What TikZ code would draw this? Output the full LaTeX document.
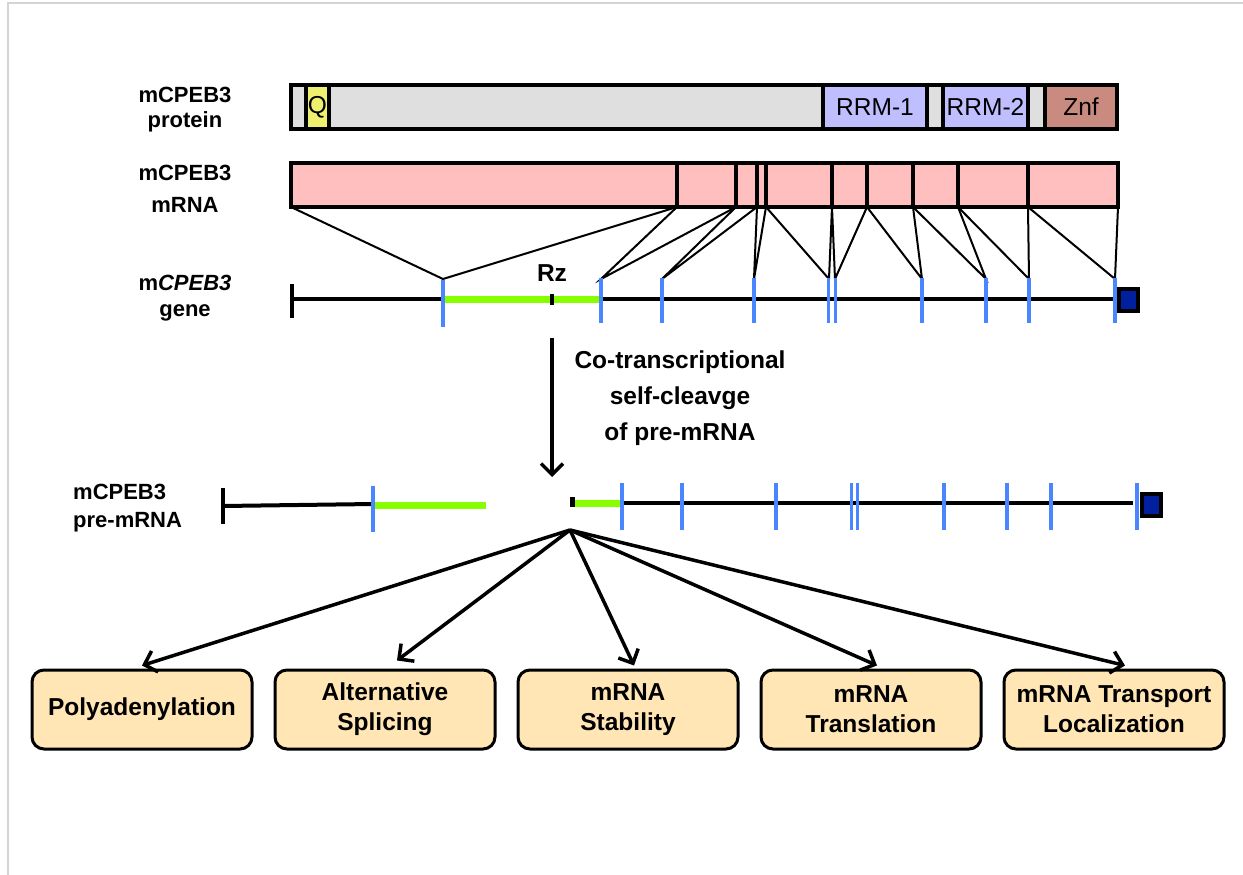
\documentclass[tikz,border=0pt]{standalone}
\usepackage{fontspec}
\setmainfont{Liberation Sans}
\usetikzlibrary{arrows.meta,calc}
\definecolor{protgray}{HTML}{DFDFDF}
\definecolor{qyellow}{HTML}{F0F070}
\definecolor{rrmblue}{HTML}{BFBFFF}
\definecolor{znfrose}{HTML}{C98A80}
\definecolor{mrnapink}{HTML}{FFBFBF}
\definecolor{rzgreen}{HTML}{88FF00}
\definecolor{exonblue}{HTML}{4A86FF}
\definecolor{capblue}{HTML}{0020A0}
\definecolor{boxfill}{HTML}{FFE6B4}
\definecolor{framegray}{HTML}{D4D4D4}
\begin{document}
\begin{tikzpicture}[x=1pt,y=-1pt,
  lbl/.style={font=\bfseries\fontsize{22}{25}\selectfont, align=center, inner sep=0pt},
  dom/.style={draw, line width=4pt, minimum height=44pt, inner sep=0pt,
              font=\fontsize{24.5}{26}\selectfont},
  exon/.style={draw=exonblue, line width=3.5pt},
  ribo/.style={draw=rzgreen, line width=7pt},
  backbone/.style={line width=4pt},
  linkline/.style={line width=2pt},
  capbox/.style={draw, line width=4pt, fill=capblue, inner sep=0pt},
  fan/.style={line width=3.5pt, -{Straight Barb[length=11pt,width=22pt]}},
  outbox/.style={draw, line width=3pt, rounded corners=12pt, fill=boxfill,
                 minimum width=220pt, minimum height=79pt, inner sep=2pt, align=center,
                 font=\bfseries\fontsize{24.5}{30}\selectfont}]
\useasboundingbox (0,0) rectangle (1243,875);

% page frame
\draw[framegray, line width=1.5pt] (8,875) -- (8,3) -- (1243,3);

% ---------- protein ----------
\node[lbl] (protlbl) at (185,110) {mCPEB3\\protein};
\draw[line width=4pt, fill=protgray] (291,85) rectangle (1117,129);
\node[dom, fill=qyellow, minimum width=23pt] (q) at (317.5,107) {Q};
\node[dom, fill=rrmblue, minimum width=104pt] (rrm1) at (875,107) {RRM-1};
\node[dom, fill=rrmblue, minimum width=85pt] (rrm2) at (985.5,107) {RRM-2};
\node[dom, fill=znfrose, minimum width=72pt] (znf) at (1081,107) {Znf};

% ---------- mRNA ----------
\node[lbl, font=\bfseries\fontsize{22}{32}\selectfont] (mrnalbl) at (185,189) {mCPEB3\\mRNA};
\foreach \i/\x in {0/291,1/677,2/736,3/757,4/766,5/832,6/867,7/913,8/958,9/1028,10/1118}
  \coordinate (r\i) at (\x,207);
\foreach \i/\x in {1/443,2/601,3/662,4/754,5/829,6/835,7/922,8/986,9/1029,10/1115}
  \coordinate (g\i) at (\x,279);
% exon mapping lines between transcript and gene
\foreach \i [evaluate=\i as \j using int(\i-1)] in {1,...,10}
  \draw[linkline] (r\j) -- (g\i) -- (r\i);
\draw[line width=4pt, fill=mrnapink] (291,163) rectangle (1118,207);
\foreach \x in {677,736,757,766,832,867,913,958,1028}
  \draw[line width=4pt] (\x,163) -- (\x,207);

% ---------- gene ----------
\node[lbl, font=\bfseries\fontsize{22}{26}\selectfont] (genelbl) at (185,298) {m\textit{CPEB3}\\gene};
\draw[backbone] (292,284) -- (292,318);
\draw[backbone] (292,299) -- (1115,299);
\draw[ribo] (443,299) -- (601,299);
\draw[line width=3.5pt] (552,294) -- (552,305);
\node[font=\bfseries\fontsize{24.5}{28}\selectfont, inner sep=0pt] (rz) at (552,273) {Rz};
\draw[exon] (443,280) -- (443,327);
\foreach \x in {601,662,754,922,986,1029,1115}
  \draw[exon] (\x,278) -- (\x,323);
\foreach \x in {828.5,835}
  \draw[exon, line width=3pt] (\x,278) -- (\x,323);
\node[capbox, minimum width=19pt, minimum height=22pt] (genecap) at (1128.5,299.5) {};

% ---------- self-cleavage ----------
\coordinate (cut) at (552,338);
\coordinate (cutend) at (552,477);
\draw[line width=3.5pt, -{Straight Barb[length=11pt,width=22pt]}] (cut) -- (cutend);
\node[lbl, font=\bfseries\fontsize{24.5}{36}\selectfont] (cleave) at (680,398)
  {Co-transcriptional\\self-cleavge\\of pre-mRNA};

% ---------- pre-mRNA ----------
\node[lbl, align=left, anchor=west, font=\bfseries\fontsize{22}{28}\selectfont] (prelbl) at (73,508) {mCPEB3\\pre-mRNA};
\draw[backbone] (223,488) -- (223,524);
\draw[backbone] (223,506) -- (373,504);
\draw[ribo] (373,505) -- (486,505);
\draw[exon] (373,486) -- (373,532);
\fill (570,497) rectangle (575,507);
\draw[ribo] (575,503) -- (622,503);
\draw[backbone] (622,503) -- (1133,503);
\foreach \x in {622,682,776,944,1007,1051,1137}
  \draw[exon] (\x,483) -- (\x,530);
\foreach \x in {851,857.5}
  \draw[exon, line width=3pt] (\x,483) -- (\x,530);
\node[capbox, minimum width=19pt, minimum height=22pt] (precap) at (1151,504.5) {};

% ---------- downstream processes ----------
\coordinate (hub) at (570,530);
\node[outbox] (b1) at (142,709.5) {Polyadenylation};
\node[outbox] (b2) at (385,709.5) {Alternative\\Splicing};
\node[outbox] (b3) at (628,709.5) {mRNA\\Stability};
\node[outbox] (b4) at (871,709.5) {mRNA\\Translation};
\node[outbox] (b5) at (1114,709.5) {mRNA Transport\\Localization};
\draw[fan] (hub) -- ([yshift=3pt]b1.north);
\draw[fan] (hub) -- ([xshift=12pt,yshift=8pt]b2.north);
\draw[fan] (hub) -- ([xshift=6pt,yshift=3pt]b3.north);
\draw[fan] (hub) -- ([xshift=6pt,yshift=3pt]b4.north);
\draw[fan] (hub) -- ([xshift=11pt,yshift=3pt]b5.north);
\end{tikzpicture}
\end{document}
